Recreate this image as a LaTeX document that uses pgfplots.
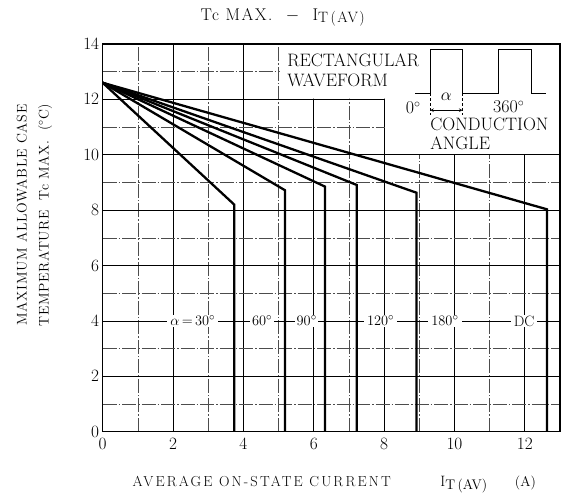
\documentclass[border=0pt]{standalone}
\usepackage{fontspec}
\usepackage{pgfplots}
\pgfplotsset{compat=1.18}
\newfontfamily\lsA[LetterSpace=9]{Latin Modern Roman}
\newfontfamily\lsB[LetterSpace=15]{Latin Modern Roman}
\newfontfamily\lsC[LetterSpace=5]{Latin Modern Roman}
\newcommand{\fs}[1]{\fontsize{#1}{#1}\selectfont}
\begin{document}
\begin{tikzpicture}
\begin{axis}[
  scale only axis, width=457.3pt, height=387.7pt,
  xmin=0,xmax=13,ymin=0,ymax=14,
  xtick={0,2,...,12}, ytick={0,2,...,14},
  minor xtick={1,3,...,11}, minor ytick={1,3,...,13},
  grid=both,
  major grid style={black, line width=0.8pt},
  minor grid style={black!70, line width=0.6pt, dash pattern=on 14pt off 2pt on 1.5pt off 2pt},
  major tick length=0pt, minor tick length=0pt,
  axis line style={line width=1.5pt},
  tick label style={font=\fs{16.5}},
  xticklabel style={yshift=-3pt},
  clip=false,
]
% white inset area
\fill[white] (axis cs:5.04,14) -- (axis cs:13,14) -- (axis cs:13,10.03) -- (axis cs:8.03,10.03) -- (axis cs:8.03,12.03) -- (axis cs:5.04,12.03) -- cycle;
\draw[line width=1.5pt] (rel axis cs:0,0) rectangle (rel axis cs:1,1);
\coordinate (BL) at (axis cs:0,0);
\coordinate (TR) at (axis cs:13,14);

% curve labels
\node[fill=white, inner xsep=3pt, inner ysep=1pt, font=\fs{15}] at (axis cs:2.56,4) {$\alpha\,{=}\,30^\circ$};
\node[fill=white, inner xsep=2pt, inner ysep=1pt, font=\fs{15}] at (axis cs:4.53,4) {$60^\circ$};
\node[fill=white, inner xsep=1.5pt, inner ysep=1pt, font=\fs{15}] at (axis cs:5.80,4) {$90^\circ$};
\node[fill=white, inner xsep=3pt, inner ysep=1pt, font=\fs{15}] at (axis cs:7.90,4) {$120^\circ$};
\node[fill=white, inner xsep=3pt, inner ysep=1pt, font=\fs{15}] at (axis cs:9.73,4) {$180^\circ$};
\node[fill=white, inner xsep=3pt, inner ysep=1pt, font=\fs{15}] at (axis cs:11.98,4) {DC};

% curves
\addplot[black, line width=2.3pt] coordinates {(0,12.6) (3.74,8.2) (3.74,0)};
\addplot[black, line width=2.3pt] coordinates {(0,12.6) (5.18,8.72) (5.18,0)};
\addplot[black, line width=2.3pt] coordinates {(0,12.6) (6.32,8.85) (6.32,0)};
\addplot[black, line width=2.3pt] coordinates {(0,12.6) (7.22,8.91) (7.22,0)};
\addplot[black, line width=2.3pt] coordinates {(0,12.6) (8.92,8.63) (8.92,0)};
\addplot[black, line width=2.3pt] coordinates {(0,12.6) (12.63,8.03) (12.63,0)};

% inset
\node[anchor=base west, font=\fs{18}] at (axis cs:5.15,13.2) {RECTANGULAR};
\node[anchor=base west, font=\fs{18}] at (axis cs:5.15,12.46) {WAVEFORM};
\addplot[black, line width=1.1pt] coordinates {(8.89,12.22) (9.31,12.22) (9.31,13.8) (10.23,13.8) (10.23,12.22) (11.24,12.22) (11.24,13.8) (12.18,13.8) (12.18,12.22) (12.61,12.22)};
\draw[densely dashed, line width=0.5pt] (axis cs:9.31,12.22) -- (axis cs:9.31,11.45);
\draw[densely dashed, line width=0.5pt] (axis cs:10.23,12.22) -- (axis cs:10.23,11.45);
\draw[<->, >=stealth, line width=0.6pt] (axis cs:9.31,11.61) -- (axis cs:10.23,11.61);
\node[inner sep=0pt, font=\fs{17}] at (axis cs:9.77,12.09) {$\alpha$};
\node[inner sep=0pt, font=\fs{18}] at (axis cs:8.83,11.70) {0$^\circ$};
\node[inner sep=0pt, font=\fs{18}] at (axis cs:11.54,11.72) {360$^\circ$};
\node[inner sep=0pt, anchor=base west, font=\fs{18}] at (axis cs:9.31,10.87) {CONDUCTION};
\node[inner sep=0pt, anchor=base west, font=\fs{18}] at (axis cs:9.31,10.18) {ANGLE};

% title
\node[anchor=base west, font=\fs{17}\lsA] at (axis cs:2.68,14.86) {Tc MAX.\ \ $-$\ \ I\raisebox{-0.3ex}{\fs{15}T\,(AV)}};
% x label
\node[anchor=base west, font=\fs{14.5}\lsB] at (axis cs:0.75,-1.99) {AVERAGE ON-STATE CURRENT};
\node[anchor=base west, font=\fs{15}] at (axis cs:9.50,-1.99) {I\raisebox{-0.35ex}{\fs{14}T\,(AV)}};
\node[anchor=base west, font=\fs{14}] at (axis cs:11.62,-1.99) {(A)};
% y label
\node[rotate=90, font=\fs{14}\lsC] at (axis cs:-2.30,7.82) {MAXIMUM ALLOWABLE CASE};
\node[rotate=90, font=\fs{14}\lsC] at (axis cs:-1.64,7.82) {TEMPERATURE\hspace{10pt}Tc MAX.\hspace{10pt}($^\circ$C)};
\end{axis}
\pgfresetboundingbox
\path[use as bounding box] ([shift={(-102.7pt,-66.3pt)}]BL) rectangle ([shift={(5pt,44pt)}]TR);
\end{tikzpicture}
\end{document}
